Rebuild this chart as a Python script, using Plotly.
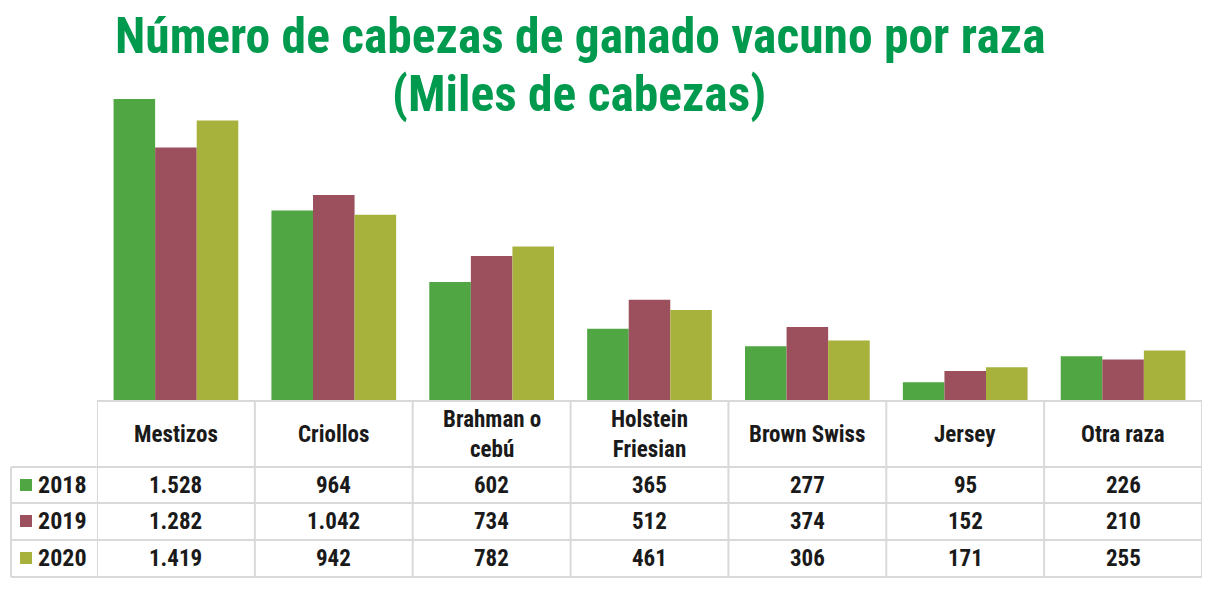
import plotly.graph_objects as go

categories = ["Mestizos", "Criollos", "Brahman o cebú", "Holstein Friesian", "Brown Swiss", "Jersey", "Otra raza"]
header_labels = ["Mestizos", "Criollos", "Brahman o<br>cebú", "Holstein<br>Friesian", "Brown Swiss", "Jersey", "Otra raza"]
years = ["2018", "2019", "2020"]
v2018 = [1528, 964, 602, 365, 277, 95, 226]
v2019 = [1282, 1042, 734, 512, 374, 152, 210]
v2020 = [1419, 942, 782, 461, 306, 171, 255]
series = [v2018, v2019, v2020]
colors = ["#4fa642", "#9c505d", "#a6b23c"]

W, H = 1216, 592
FONT = "Liberation Sans Narrow, Roboto Condensed, DejaVu Sans Condensed, Arial Narrow, sans-serif"

def py(p):  # pixel y -> paper y
    return (H - p) / H

def px(p):
    return p / W

fig = go.Figure()
for yr, vals, c in zip(years, series, colors):
    fig.add_trace(go.Bar(x=categories, y=vals, name=yr, marker=dict(color=c, line=dict(width=0)),
                         showlegend=False))

x0p, x1p = 97, 1202
fig.update_layout(
    width=W, height=H, margin=dict(l=0, r=0, t=0, b=0),
    paper_bgcolor="white", plot_bgcolor="white",
    barmode="group", bargap=0.21, bargroupgap=0,
    xaxis=dict(domain=[px(x0p), px(x1p)], showticklabels=False, showgrid=False, zeroline=False,
               showline=False, ticks="", range=[-0.5, 6.5]),
    yaxis=dict(domain=[py(401), py(99)], range=[0, 1528], showticklabels=False, showgrid=False,
               zeroline=False, showline=False, ticks=""),
    font=dict(family=FONT),
)

shapes = []
annotations = []
grid = "#d9d9d9"
rows_y = [401, 467, 503, 540, 577]
for i, yy in enumerate(rows_y):
    xs = px(x0p) if i == 0 else px(11)
    shapes.append(dict(type="line", xref="paper", yref="paper", x0=xs, x1=px(x1p), y0=py(yy), y1=py(yy),
                       line=dict(color=grid, width=2)))
for k in range(len(categories) + 1):
    shapes.append(dict(type="line", xref="x", yref="paper", x0=k - 0.5, x1=k - 0.5, y0=py(401), y1=py(577),
                       line=dict(color=grid, width=2)))
shapes.append(dict(type="line", xref="paper", yref="paper", x0=px(11), x1=px(11), y0=py(467), y1=py(577),
                   line=dict(color=grid, width=2)))

for cat, lab in zip(categories, header_labels):
    annotations.append(dict(x=cat, xref="x", y=py(434), yref="paper", text="<b>" + lab + "</b>",
                            showarrow=False, xanchor="center", yanchor="middle",
                            font=dict(size=23, color="#1a1a1a", family=FONT)))

row_centers = [485, 521, 558]
for yr, vals, c, yc in zip(years, series, colors, row_centers):
    shapes.append(dict(type="rect", xref="paper", yref="paper", x0=px(20), x1=px(32),
                       y0=py(yc + 6), y1=py(yc - 6), fillcolor=c, line=dict(width=0)))
    annotations.append(dict(x=px(36), xref="paper", y=py(yc), yref="paper", text="<b>" + yr + "</b>",
                            showarrow=False, xanchor="left", yanchor="middle",
                            font=dict(size=24, color="#1a1a1a", family=FONT)))
    for cat, v in zip(categories, vals):
        annotations.append(dict(x=cat, xref="x", y=py(yc), yref="paper",
                                text="<b>" + f"{v:,}".replace(",", ".") + "</b>",
                                showarrow=False, xanchor="center", yanchor="middle",
                                font=dict(size=23, color="#1a1a1a", family=FONT)))

annotations.append(dict(x=px(580), xref="paper", y=py(36), yref="paper",
                        text="<b>Número de cabezas de ganado vacuno por raza</b>",
                        showarrow=False, xanchor="center", yanchor="middle",
                        font=dict(size=49.5, color="#009a4e", family=FONT)))
annotations.append(dict(x=px(579), xref="paper", y=py(94), yref="paper",
                        text="<b>(Miles de cabezas)</b>",
                        showarrow=False, xanchor="center", yanchor="middle",
                        font=dict(size=49.5, color="#009a4e", family=FONT)))

fig.update_layout(shapes=shapes, annotations=annotations)
fig.write_html("out.html")
